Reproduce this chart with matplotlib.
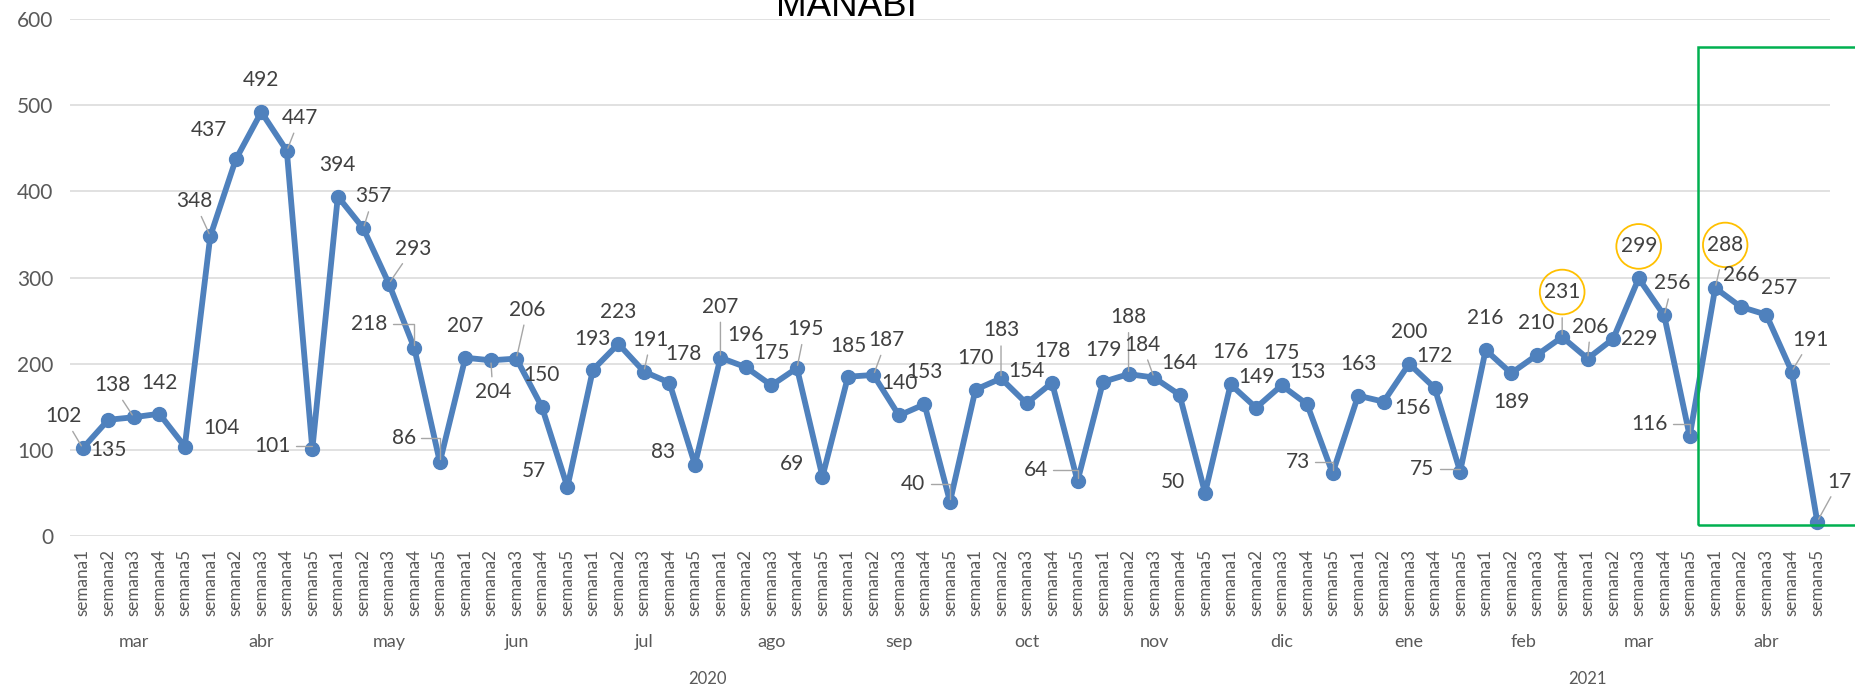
import matplotlib.pyplot as plt
from matplotlib.patches import Rectangle

plt.rcParams['font.family'] = ['Lato', 'DejaVu Sans']

years = ['2020', '2021']
months_2020 = ['mar', 'abr', 'may', 'jun', 'jul', 'ago', 'sep', 'oct', 'nov', 'dic']
weeks_2020 = [5, 5, 5, 5, 5, 5, 5, 5, 5, 5]
months_2021 = ['ene', 'feb', 'mar', 'abr']
weeks_2021 = [5, 4, 5, 5]

vals_2020 = [102, 135, 138, 142, 104,
             348, 437, 492, 447, 101,
             394, 357, 293, 218, 86,
             207, 204, 206, 150, 57,
             193, 223, 191, 178, 83,
             207, 196, 175, 195, 69,
             185, 187, 140, 153, 40,
             170, 183, 154, 178, 64,
             179, 188, 184, 164, 50,
             176, 149, 175, 153, 73]
vals_2021 = [163, 156, 200, 172, 75,
             216, 189, 210, 231,
             206, 229, 299, 256, 116,
             288, 266, 257, 191, 17]

# label placement (pixel offsets, screen down = +), like excel's moved labels
offsets = [
    (-19, -32), (0, 30), (-21, -32), (0, -31), (37, -19),
    (-16, -35), (-27, -29), (0, -32), (13, -33), (-40, -3),
    (0, -32), (10, -32), (24, -35), (-45, -24), (-36, -24),
    (0, -32), (2, 32), (11, -49), (0, -32), (-33, -16),
    (0, -31), (0, -32), (7, -32), (14, -29), (-32, -13),
    (0, -51), (0, -32), (0, -32), (8, -39), (-30, -13),
    (0, -31), (13, -35), (0, -32), (0, -32), (-37, -18),
    (0, -32), (0, -48), (0, -32), (0, -32), (-42, -11),
    (0, -32), (0, -57), (-12, -33), (0, -32), (-32, -11),
    (0, -32), (0, -31), (0, -32), (0, -32), (-35, -11),
    (0, -32), (29, 6), (0, -32), (0, -32), (-38, -3),
    (0, -32), (0, 29), (0, -32), (0, -45),
    (3, -32), (26, 0), (0, -32), (8, -32), (-40, -12),
    (10, -43), (0, -32), (13, -27), (19, -32), (22, -40),
]
leaders = {0, 2, 5, 8, 9, 11, 12, 13, 14, 16, 17, 22, 25, 28, 31, 34, 36,
           39, 41, 42, 49, 54, 58, 59, 62, 63, 64, 67, 68}
elbows = {9, 13, 14, 34, 39, 49, 54, 63}
circled = {58, 61, 64}

values = vals_2020 + vals_2021
week_labels = []
month_groups = []
for mlist, wlist in [(months_2020, weeks_2020), (months_2021, weeks_2021)]:
    for m, n in zip(mlist, wlist):
        start = len(week_labels)
        week_labels += ['semana%d' % (k + 1) for k in range(n)]
        month_groups.append((m, start, len(week_labels) - 1))
year_groups = [(years[0], 0, sum(weeks_2020) - 1),
               (years[1], sum(weeks_2020), len(week_labels) - 1)]
x = list(range(len(values)))

fig = plt.figure(figsize=(18.56, 6.87), dpi=100)
ax = fig.add_axes([70 / 1856, 1 - 536.2 / 687, 1760 / 1856, 517.3 / 687])

blue = '#4f81bd'
ax.plot(x, values, color=blue, lw=4.2, marker='o', ms=10, zorder=3,
        solid_joinstyle='round')

ax.set_xlim(-0.5, len(values) - 0.5)
ax.set_ylim(0, 600)
ax.set_yticks(range(0, 601, 100))
ax.grid(axis='y', color='#d9d9d9', lw=1.1)
ax.set_axisbelow(True)
for s in ax.spines.values():
    s.set_visible(False)
ax.tick_params(axis='y', length=0, pad=12, labelsize=15, labelcolor='#595959')
ax.set_xticks(x)
ax.set_xticklabels(week_labels, rotation=90, fontsize=12.3, color='#595959')
ax.tick_params(axis='x', length=0, pad=9)

for i, v in enumerate(values):
    dx, dy = offsets[i]
    kw = {}
    if i in leaders:
        conn = 'angle,angleA=0,angleB=90,rad=0' if i in elbows else 'arc3'
        kw['arrowprops'] = dict(arrowstyle='-', color='#a6a6a6', lw=1,
                                shrinkA=2, shrinkB=2, connectionstyle=conn)
    if i in circled:
        kw['bbox'] = dict(boxstyle='circle,pad=0.2', fc='none', ec='#ffc000', lw=1.3)
    ax.annotate(str(v), xy=(i, v), xytext=(dx, -dy), textcoords='offset pixels',
                ha='center', va='center', fontsize=15, color='#404040',
                zorder=4, **kw)

xt = ax.get_xaxis_transform()
for m, a, b in month_groups:
    ax.annotate(m, xy=((a + b) / 2, 0), xycoords=xt, xytext=(0, -106),
                textcoords='offset pixels', ha='center', va='center',
                fontsize=13, color='#595959', annotation_clip=False)
for yname, a, b in year_groups:
    ax.annotate(yname, xy=((a + b) / 2, 0), xycoords=xt, xytext=(0, -143),
                textcoords='offset pixels', ha='center', va='center',
                fontsize=12, color='#595959', annotation_clip=False)

# highlight box over april 2021
ax.add_patch(Rectangle((63.34, 13), 12, 554, fill=False, ec='#00b050', lw=1.8,
                       clip_on=False, zorder=5))

fig.text(846.8 / 1856, 1 - 16 / 687, 'MANABÍ', family='Liberation Sans',
         fontsize=26.5, ha='center', va='baseline', color='black')

fig.savefig('out.png', dpi=100)
